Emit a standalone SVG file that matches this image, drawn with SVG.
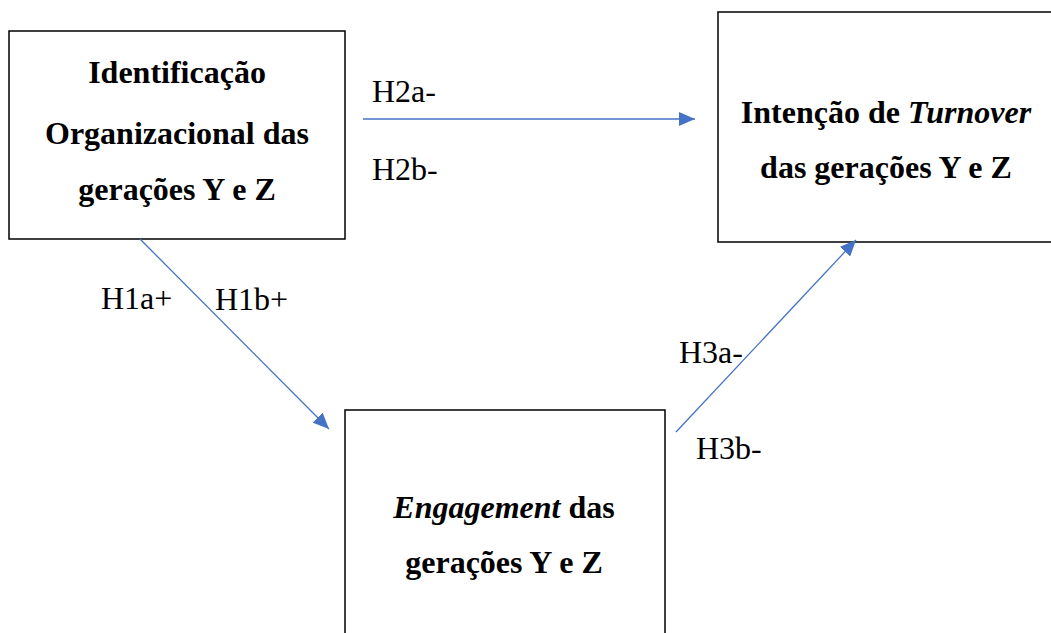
<svg xmlns="http://www.w3.org/2000/svg" width="1051" height="633" viewBox="0 0 1051 633">
<style>
.box{fill:#fff;stroke:#000;stroke-width:1.5}
.t{font-family:"Liberation Serif","Times New Roman",serif;font-size:32px;fill:#000}
.b{font-weight:bold;text-anchor:middle}
.i{font-style:italic}
.c{stroke:#4472C4;stroke-width:1.3;fill:none}
</style>
<defs>
<marker id="ah" markerUnits="userSpaceOnUse" markerWidth="16" markerHeight="14" refX="16" refY="7" orient="auto" viewBox="0 0 16 14">
<path d="M0,0 L16,7 L0,14 z" fill="#4472C4"/>
</marker>
</defs>
<rect width="1051" height="633" fill="#fff"/>
<g id="node-identificacao">
<rect class="box" x="9" y="31" width="336" height="208"/>
<text class="t b" x="177" y="83">Identificação</text>
<text class="t b" x="177" y="144">Organizacional das</text>
<text class="t b" x="177" y="200">gerações Y e Z</text>
</g>
<g id="node-turnover">
<rect class="box" x="718" y="12" width="340" height="230"/>
<text class="t b" x="886" y="123">Intenção de <tspan class="i">Turnover</tspan></text>
<text class="t b" x="886" y="178">das gerações Y e Z</text>
</g>
<g id="node-engagement">
<rect class="box" x="345" y="410" width="320" height="240"/>
<text class="t b" x="504" y="518"><tspan class="i">Engagement</tspan> das</text>
<text class="t b" x="504" y="573">gerações Y e Z</text>
</g>
<g id="connectors">
<line class="c" x1="363" y1="119" x2="695" y2="119" marker-end="url(#ah)"/>
<line class="c" x1="140" y1="239" x2="329" y2="429" marker-end="url(#ah)"/>
<line class="c" x1="676" y1="432" x2="856" y2="240" marker-end="url(#ah)"/>
</g>
<g id="labels">
<text class="t" x="372" y="102">H2a-</text>
<text class="t" x="372" y="180">H2b-</text>
<text class="t" x="101" y="309">H1a+</text>
<text class="t" x="215" y="310">H1b+</text>
<text class="t" x="679" y="363">H3a-</text>
<text class="t" x="696" y="459">H3b-</text>
</g>
</svg>
